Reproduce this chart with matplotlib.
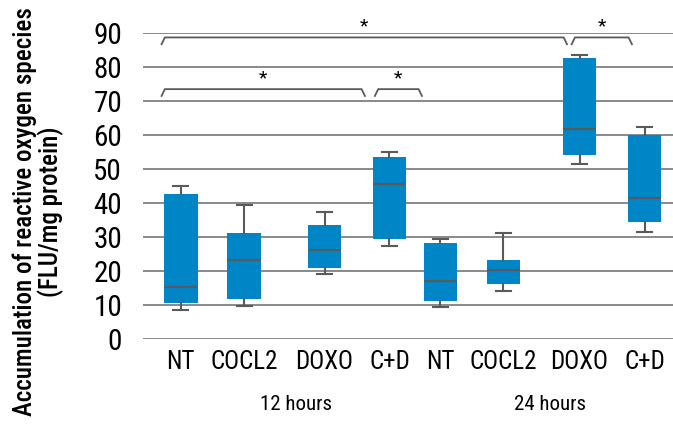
import matplotlib
matplotlib.use("Agg")
import matplotlib.pyplot as plt
from matplotlib import font_manager

categories = ["NT", "COCL2", "DOXO", "C+D", "NT", "COCL2", "DOXO", "C+D"]
groups = ["12 hours", "24 hours"]
whisker_low = [8.5, 9.6, 19.1, 27.3, 9.4, 14.0, 51.4, 31.4]
q1 = [10.6, 11.8, 20.9, 29.2, 11.2, 16.2, 54.1, 34.4]
median = [15.1, 23.1, 26.2, 45.6, 17.1, 20.1, 61.6, 41.5]
q3 = [42.6, 31.1, 33.4, 53.4, 28.1, 23.1, 82.6, 59.8]
whisker_high = [45.0, 39.4, 37.3, 54.9, 29.3, 31.0, 83.5, 62.2]
yticks = [0, 10, 20, 30, 40, 50, 60, 70, 80, 90]
# significance brackets: (start box, end box, level)
brackets = [(0, 3, 73.4), (3, 4, 73.4), (0, 6, 88.6), (6, 7, 88.6)]

# layout (not data): box positions and bracket end offsets
positions = [0, 0.96, 2.17, 3.15, 3.92, 4.87, 6.02, 7.0]
bracket_offsets = [(-0.29, -0.37), (-0.22, -0.28), (-0.29, -0.19), (-0.12, -0.19)]
group_centers = [1.74, 5.57]

names = {f.name for f in font_manager.fontManager.ttflist}
fam = [f for f in ["Roboto Condensed", "Liberation Sans Narrow", "Liberation Sans", "DejaVu Sans"] if f in names]
plt.rcParams['font.family'] = fam

fig = plt.figure(figsize=(6.73, 4.24), dpi=100)
ax = fig.add_axes([0.2125, 0.2012, 0.7875, 0.7217])

stats = []
for i in range(len(categories)):
    stats.append(dict(med=median[i], q1=q1[i], q3=q3[i], whislo=whisker_low[i],
                      whishi=whisker_high[i], fliers=[], label=categories[i]))
for y in yticks:
    ax.axhline(y, color='#6a6a6a', lw=1.1, zorder=0)

ax.bxp(stats, positions=positions, widths=0.51, patch_artist=True, showfliers=False,
       boxprops=dict(facecolor='#0085C7', edgecolor='#0085C7', lw=0),
       medianprops=dict(color='#5a5a5a', lw=1.5),
       whiskerprops=dict(color='#5a5a5a', lw=1.5),
       capprops=dict(color='#5a5a5a', lw=1.5),
       capwidths=0.22)

ax.set_xlim(-0.57, 7.43)
ax.set_ylim(0, 90)
ax.set_yticks(yticks)
ax.set_yticklabels([str(t) for t in yticks], fontsize=21)
ax.set_xticks(positions)
ax.set_xticklabels(categories, fontsize=18)
ax.tick_params(axis='y', length=0, pad=15)
ax.tick_params(axis='x', length=0, pad=8)
for s in ax.spines.values():
    s.set_visible(False)

bc = '#5a5a5a'
for (a, b, lvl), (o0, o1) in zip(brackets, bracket_offsets):
    x0 = positions[a] + o0
    x1 = positions[b] + o1
    foot = 2.0
    ax.plot([x0, x0 + 0.05, x1 - 0.05, x1], [lvl - foot, lvl, lvl, lvl - foot],
            color=bc, lw=1.3, clip_on=False)
    ax.text((x0 + x1) / 2, lvl + 0.6, '*', ha='center', va='bottom', fontsize=14,
            clip_on=False)

for g, c in zip(groups, group_centers):
    ax.text(c, -19.3, g, ha='center', va='center', fontsize=15)

fig.text(0.057, 0.5, "Accumulation of reactive oxygen species\n(FLU/mg protein)",
         rotation=90, ha='center', va='center', fontsize=18, linespacing=1.0,
         fontweight='medium')

fig.savefig("out.png", dpi=100)
